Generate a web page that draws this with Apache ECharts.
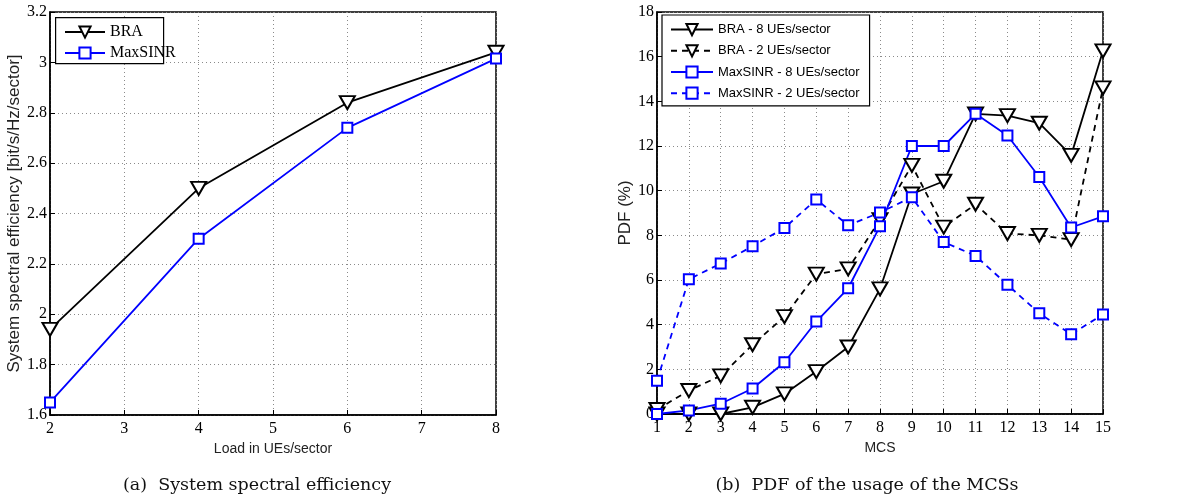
<!DOCTYPE html>
<html>
<head>
<meta charset="utf-8">
<script src="https://cdn.jsdelivr.net/npm/echarts@6/dist/echarts.min.js"></script>
<style>
html,body{margin:0;padding:0;background:#fff;}
#c{width:1199px;height:500px;}
</style>
</head>
<body>
<div id="c"></div>
<script>
// Left chart: system spectral efficiency
const loads = [2, 4, 6, 8];
const braSE = [1.94, 2.50, 2.84, 3.04];
const maxSinrSE = [1.65, 2.30, 2.74, 3.015];

// Right chart: PDF of MCS usage
const mcs = [1,2,3,4,5,6,7,8,9,10,11,12,13,14,15];
const bra8 = [0, 0, 0, 0.3, 0.9, 1.9, 3.0, 5.6, 9.85, 10.42, 13.44, 13.36, 13.02, 11.58, 16.26];
const bra2 = [0.2, 1.05, 1.71, 3.1, 4.36, 6.26, 6.5, 8.7, 11.13, 8.37, 9.39, 8.08, 8.0, 7.81, 14.6];
const maxSinr8 = [0, 0.16, 0.46, 1.14, 2.32, 4.14, 5.63, 8.41, 12.0, 12.0, 13.44, 12.47, 10.61, 8.35, 8.85];
const maxSinr2 = [1.49, 6.03, 6.74, 7.51, 8.33, 9.61, 8.45, 9.02, 9.71, 7.7, 7.08, 5.79, 4.51, 3.57, 4.46];

function pairs(xs, ys){ return xs.map((x,i)=>[x, ys[i]]); }

const serif = 'Liberation Serif';
const sans = 'Liberation Sans';

function mkSeries(name, xi, yi, data, color, dashed, shape){
  const tri = shape === 'tri';
  return {
    name: name, type: 'line', xAxisIndex: xi, yAxisIndex: yi,
    data: data, color: color,
    symbol: tri ? 'triangle' : 'rect',
    symbolRotate: tri ? 180 : 0,
    symbolSize: tri ? [15, 13] : 10,
    showAllSymbol: true,
    lineStyle: {color: color, width: 1.8, type: dashed ? [6, 5] : 'solid'},
    itemStyle: {color: '#fff', borderColor: color, borderWidth: 2},
    emphasis: {disabled: true},
    animation: false,
    z: 3
  };
}

const axisCommon = {
  axisLine: {show: true, onZero: false, lineStyle: {color: '#000', width: 1.5}},
  axisTick: {show: true, inside: true, length: 5, lineStyle: {color: '#000'}},
  splitLine: {show: true, lineStyle: {color: '#8a8a8a', type: [1, 3], width: 1}},
  axisLabel: {color: '#000', fontFamily: serif, fontSize: 16, margin: 6},
  nameTextStyle: {color: '#222', fontFamily: sans, fontSize: 14}
};
const yLabel = Object.assign({}, axisCommon.axisLabel, {margin: 3});
const yNameStyle = {color: '#222', fontFamily: sans, fontSize: 17};
const captionStyle = {fontFamily: 'DejaVu Serif', fontWeight: 'normal', fontSize: 17.5, color: '#111'};

const chart = echarts.init(document.getElementById('c'), null, {renderer: 'canvas'});
chart.setOption({
  backgroundColor: '#fff',
  animation: false,
  title: [
    {text: '(a)  System spectral efficiency', left: 257, top: 476, padding: 0, textAlign: 'center', textStyle: captionStyle},
    {text: '(b)  PDF of the usage of the MCSs', left: 867, top: 476, padding: 0, textAlign: 'center', textStyle: captionStyle}
  ],
  grid: [
    {left: 50, right: 703, top: 12, bottom: 85, show: true, borderColor: '#000', borderWidth: 1.5, containLabel: false},
    {left: 657, right: 96, top: 12, bottom: 86, show: true, borderColor: '#000', borderWidth: 1.5, containLabel: false}
  ],
  xAxis: [
    Object.assign({}, axisCommon, {type: 'value', gridIndex: 0, min: 2, max: 8, interval: 1,
      name: 'Load in UEs/sector', nameLocation: 'middle', nameGap: 26}),
    Object.assign({}, axisCommon, {type: 'value', gridIndex: 1, min: 1, max: 15, interval: 1,
      name: 'MCS', nameLocation: 'middle', nameGap: 26})
  ],
  yAxis: [
    Object.assign({}, axisCommon, {type: 'value', gridIndex: 0, min: 1.6, max: 3.2, interval: 0.2,
      name: 'System spectral efficiency [bit/s/Hz/sector]', nameLocation: 'middle', nameGap: 21,
      nameTextStyle: yNameStyle,
      axisLabel: Object.assign({}, yLabel, {formatter: v => String(Math.round(v*10)/10)})}),
    Object.assign({}, axisCommon, {type: 'value', gridIndex: 1, min: 0, max: 18, interval: 2,
      name: 'PDF (%)', nameLocation: 'middle', nameGap: 20, nameTextStyle: yNameStyle,
      axisLabel: yLabel})
  ],
  legend: [
    {data: ['BRA', 'MaxSINR'], left: 64, top: 24, orient: 'vertical',
     padding: 0, itemGap: 5, itemWidth: 40, itemHeight: 14,
     textStyle: {fontFamily: serif, fontSize: 16, color: '#000'}, selectedMode: false, z: 10},
    {data: ['BRA - 8 UEs/sector', 'BRA - 2 UEs/sector', 'MaxSINR - 8 UEs/sector', 'MaxSINR - 2 UEs/sector'],
     left: 662, top: 15, orient: 'vertical',
     backgroundColor: '#fff', borderColor: '#000', borderWidth: 1.2, borderRadius: 0,
     padding: [8, 10, 6, 8], itemGap: 8, itemWidth: 42, itemHeight: 14,
     textStyle: {fontFamily: sans, fontSize: 13, color: '#000'}, selectedMode: false}
  ],
  graphic: [
    {type: 'rect', left: 55, top: 17, z: 9,
     shape: {width: 108, height: 46},
     style: {fill: '#fff', stroke: '#000', lineWidth: 1.2}}
  ],
  series: [
    mkSeries('BRA', 0, 0, pairs(loads, braSE), '#000', false, 'tri'),
    mkSeries('MaxSINR', 0, 0, pairs(loads, maxSinrSE), '#0000ff', false, 'sq'),
    mkSeries('BRA - 8 UEs/sector', 1, 1, pairs(mcs, bra8), '#000', false, 'tri'),
    mkSeries('BRA - 2 UEs/sector', 1, 1, pairs(mcs, bra2), '#000', true, 'tri'),
    mkSeries('MaxSINR - 8 UEs/sector', 1, 1, pairs(mcs, maxSinr8), '#0000ff', false, 'sq'),
    mkSeries('MaxSINR - 2 UEs/sector', 1, 1, pairs(mcs, maxSinr2), '#0000ff', true, 'sq')
  ]
});
</script>
</body>
</html>
